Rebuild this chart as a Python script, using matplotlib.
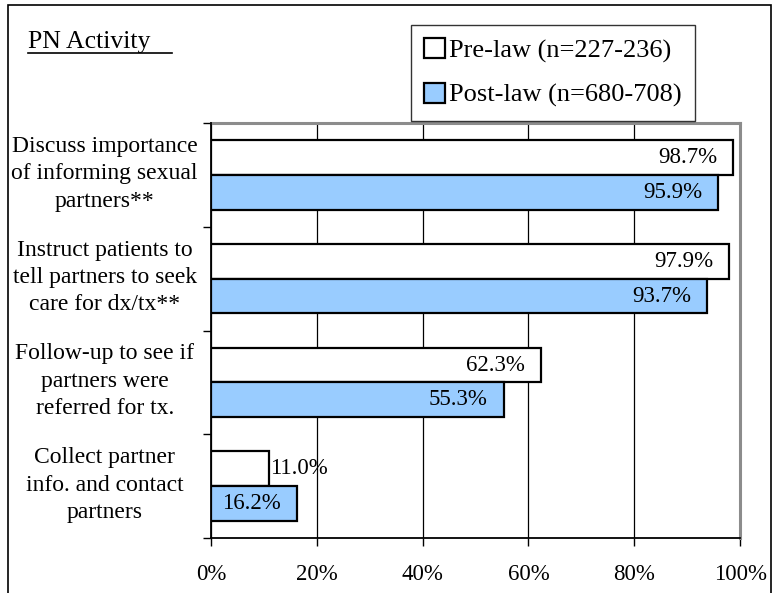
import matplotlib.pyplot as plt
import matplotlib.patches as mpatches
from matplotlib.lines import Line2D
import numpy as np

plt.rcParams['font.family'] = ['Liberation Serif', 'DejaVu Serif']

# PN activity by period (percent of providers)
activities = [
    'Discuss importance\nof informing sexual\npartners**',
    'Instruct patients to\ntell partners to seek\ncare for dx/tx**',
    'Follow-up to see if\npartners were\nreferred for tx.',
    'Collect partner\ninfo. and contact\npartners',
]
pre_law = [98.7, 97.9, 62.3, 11.0]
post_law = [95.9, 93.7, 55.3, 16.2]
pre_label = 'Pre-law (n=227-236)'
post_label = 'Post-law (n=680-708)'
x_ticks = [0, 20, 40, 60, 80, 100]

post_color = '#99CCFF'

fig = plt.figure(figsize=(7.79, 5.93), dpi=100)
ax = fig.add_axes([0.2709, 0.0927, 0.950 - 0.2709, 0.7926 - 0.0927])

# outer chart frame (runs off the bottom edge)
frame = mpatches.Rectangle((8 / 779, -0.05), (771 - 8) / 779, 1 - 5 / 593 + 0.05,
                           transform=fig.transFigure, fill=False,
                           edgecolor='black', linewidth=1.2)
fig.patches.append(frame)

y = np.arange(len(activities))
h = 0.335

ax.barh(y - h / 2, pre_law, height=h, color='white', edgecolor='black',
        linewidth=1.6, zorder=3)
ax.barh(y + h / 2, post_law, height=h, color=post_color, edgecolor='black',
        linewidth=1.6, zorder=3)

for yi, v in zip(y, pre_law):
    if v > 20:
        ax.text(v - 3.0, yi - h / 2, f'{v:.1f}%', ha='right', va='center',
                fontsize=16.5, zorder=4)
    else:
        ax.text(v + 0.2, yi - h / 2, f'{v:.1f}%', ha='left', va='center',
                fontsize=16.5, zorder=4)
for yi, v in zip(y, post_law):
    ax.text(v - 3.0, yi + h / 2, f'{v:.1f}%', ha='right', va='center',
            fontsize=16.5, zorder=4)

ax.set_xlim(0, 100)
ax.set_ylim(len(activities) - 0.5, -0.5)
ax.set_xticks(x_ticks)
ax.set_xticklabels([f'{t}%' for t in x_ticks], fontsize=16.5)
ax.tick_params(axis='x', direction='out', length=6, width=1, pad=13)

# category labels sit between tick marks at slot boundaries
ax.set_yticks(np.arange(len(activities) + 1) - 0.5)
ax.set_yticklabels([])
ax.tick_params(axis='y', direction='out', length=6, width=1)
for yi, lab in zip(y, activities):
    ax.text(-20.1, yi - 0.01, lab, ha='center', va='center', fontsize=17,
            linespacing=1.4, transform=ax.transData, clip_on=False)

ax.xaxis.grid(True, color='black', linewidth=0.9, zorder=0)
ax.set_axisbelow(True)

for side in ['left', 'bottom']:
    ax.spines[side].set_color('black')
    ax.spines[side].set_linewidth(1.3)
    ax.spines[side].set_zorder(5)
for side in ['top', 'right']:
    ax.spines[side].set_color('#8c8c8c')
    ax.spines[side].set_linewidth(2.2)

# section heading with long underline
fig.text(28 / 779, 1 - 42 / 593, 'PN Activity', fontsize=18.5, ha='left', va='center')
fig.add_artist(Line2D([28 / 779, 172 / 779], [1 - 53 / 593, 1 - 53 / 593],
                      color='black', linewidth=1.2))

handles = [
    mpatches.Patch(facecolor='white', edgecolor='black', linewidth=1.6, label=pre_label),
    mpatches.Patch(facecolor=post_color, edgecolor='black', linewidth=1.6, label=post_label),
]
leg = fig.legend(handles=handles, loc='upper left',
                 bbox_to_anchor=(411 / 779, 1 - 25 / 593), fontsize=19,
                 frameon=True, fancybox=False, edgecolor='black',
                 handlelength=0.8, handleheight=0.8, handletextpad=0.15,
                 labelspacing=0.75, borderpad=0.5, borderaxespad=0)
leg.get_frame().set_linewidth(1.0)

fig.savefig('out.png', dpi=100, facecolor='white')
